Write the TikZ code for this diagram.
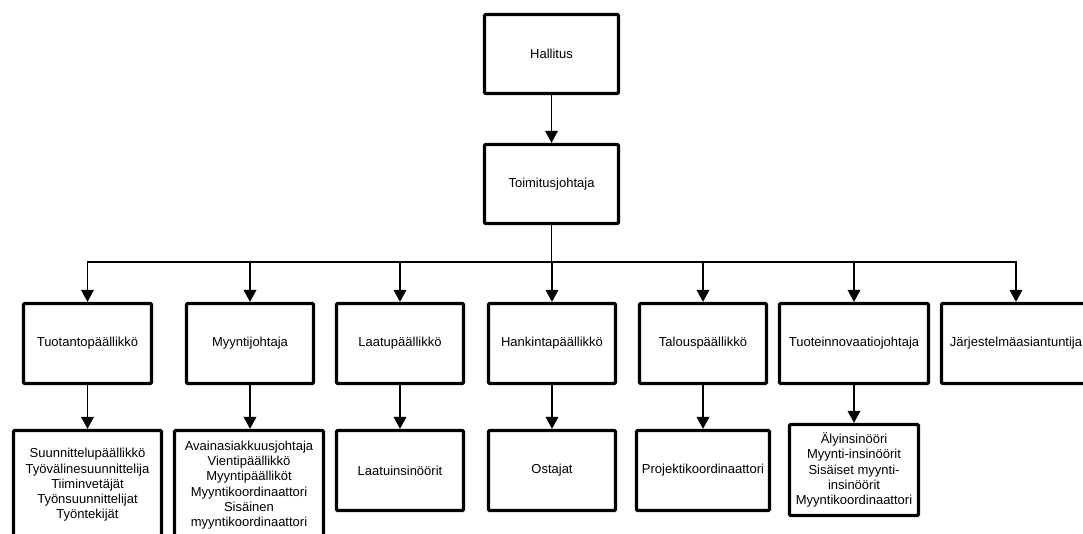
\documentclass[tikz,border=0pt]{standalone}
\usepackage{fontspec}
\setmainfont{Liberation Sans}
\usetikzlibrary{arrows.meta}
\begin{document}
\begin{tikzpicture}[x=1pt,y=-1pt,
  orgbox/.style={draw, line width=3.2pt, rounded corners=1.2pt, align=center,
    inner sep=0pt, fill=white, font=\fontsize{13}{15.3}\selectfont},
  lvl/.style={orgbox, minimum width=127pt, minimum height=80pt},
  link/.style={line width=1.9pt, -{Triangle[width=12.5pt,length=12pt]}}
]
\path[use as bounding box] (0,0) rectangle (1083,533);
\clip (0,0) rectangle (1083,533);
\fill[white] (0,0) rectangle (1083,533);

% top of the chart
\node[orgbox, minimum width=134pt, minimum height=79pt] (hal) at (551.5,54) {Hallitus};
\node[orgbox, minimum width=134pt, minimum height=79pt] (toim) at (551.5,184) {Toimitusjohtaja};

% department heads
\node[lvl, minimum width=128pt] (tuot) at (87.5,343.5) {Tuotantopäällikkö};
\node[lvl] (myyj) at (250,343.5) {Myyntijohtaja};
\node[lvl] (laatu) at (400,343.5) {Laatupäällikkö};
\node[lvl] (hank) at (552,343.5) {Hankintapäällikkö};
\node[lvl] (talous) at (703,343.5) {Talouspäällikkö};
\node[lvl, minimum width=149pt] (tinno) at (854,343.5) {Tuoteinnovaatiojohtaja};
\node[lvl, minimum width=149pt] (jarj) at (1016,343.5) {Järjestelmäasiantuntija};

% staff under each head
\node[orgbox, minimum width=148pt, minimum height=109pt] (tuotC) at (87.5,485)
  {Suunnittelupäällikkö\\Työvälinesuunnittelija\\Tiiminvetäjät\\Työnsuunnittelijat\\Työntekijät};
\node[orgbox, minimum width=149pt, minimum height=109pt] (myyC) at (249,485)
  {Avainasiakkuusjohtaja\\Vientipäällikkö\\Myyntipäälliköt\\Myyntikoordinaattori\\Sisäinen\\myyntikoordinaattori};
\node[lvl] (laatuC) at (400,470.5) {Laatuinsinöörit};
\node[lvl] (ostC) at (552,470.5) {Ostajat};
\node[lvl, minimum width=133pt] (projC) at (703,470.5) {Projektikoordinaattori};
\node[orgbox, minimum width=129pt, minimum height=91pt] (tinnoC) at (854,470)
  {Älyinsinööri\\Myynti-insinöörit\\Sisäiset myynti-\\insinöörit\\Myyntikoordinaattori};

% connectors
\coordinate (bus) at (551.5,262);
\draw[link] (hal) -- (toim);
\foreach \n in {tuot,myyj,laatu,hank,talous,tinno,jarj}
  \draw[link] (toim.south) -- (bus) -| (\n.north);
\draw[link] (tuot) -- (tuotC);
\draw[link] (myyj.south) -- (myyj.south |- myyC.north);
\draw[link] (laatu) -- (laatuC);
\draw[link] (hank) -- (ostC);
\draw[link] (talous) -- (projC);
\draw[link] (tinno) -- (tinnoC);
\end{tikzpicture}
\end{document}
